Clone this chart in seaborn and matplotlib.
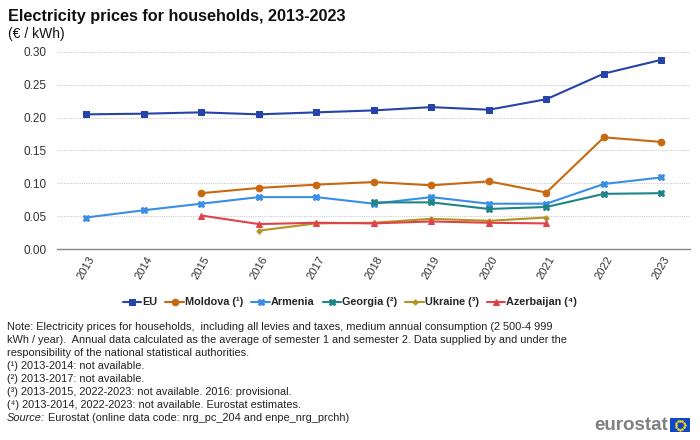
import numpy as np
import pandas as pd
import matplotlib
matplotlib.use("Agg")
import matplotlib.pyplot as plt
import seaborn as sns
from matplotlib.patches import Rectangle

nan = np.nan
years = list(range(2013, 2024))
eu = [0.205, 0.206, 0.208, 0.205, 0.208, 0.211, 0.216, 0.212, 0.228, 0.267, 0.288]
moldova = [nan, nan, 0.085, 0.093, 0.098, 0.102, 0.097, 0.103, 0.086, 0.170, 0.163]
armenia = [0.048, 0.059, 0.069, 0.079, 0.079, 0.069, 0.079, 0.069, 0.069, 0.099, 0.109]
georgia = [nan, nan, nan, nan, nan, 0.071, 0.071, 0.061, 0.064, 0.084, 0.085]
ukraine = [nan, nan, nan, 0.028, 0.039, 0.040, 0.046, 0.043, 0.048, nan, nan]
azerbaijan = [nan, nan, 0.051, 0.038, 0.040, 0.039, 0.042, 0.040, 0.039, nan, nan]

series_names = ["EU", "Moldova (¹)", "Armenia", "Georgia (²)", "Ukraine (³)", "Azerbaijan (⁴)"]
series_vals = [eu, moldova, armenia, georgia, ukraine, azerbaijan]
yticks = [0.00, 0.05, 0.10, 0.15, 0.20, 0.25, 0.30]

colors = ["#2644A7", "#C8680F", "#3A8EE6", "#208486", "#B39422", "#E0424A"]
markers = ["s", "o", "X", "X", "P", "^"]
msizes = [4.6, 4.8, 4.8, 4.8, 3.4, 4.8]

rows = []
for name, vals in zip(series_names, series_vals):
    for y, v in zip(years, vals):
        rows.append({"year": y, "value": v, "series": name})
df = pd.DataFrame(rows).dropna()

sns.set_style("white")
plt.rcParams["font.family"] = ["Liberation Sans", "DejaVu Sans"]

fig = plt.figure(figsize=(7, 4.4), dpi=100)
ax = fig.add_axes([0.082, 0.434, 0.904, 0.448])

for name, c, m, ms in zip(series_names, colors, markers, msizes):
    sub = df[df["series"] == name]
    sns.lineplot(data=sub, x="year", y="value", ax=ax, color=c, marker=m,
                 markersize=ms, markeredgecolor=c, linewidth=1.5, label=name,
                 legend=True)

ax.set_xlim(2012.5, 2023.5)
ax.set_ylim(0, 0.30)
ax.set_yticks(yticks)
ax.set_yticklabels([f"{t:.2f}" for t in yticks], fontsize=8.5, color="#333333")
ax.set_xticks(years)
ax.set_xticklabels([str(y) for y in years], rotation=60, fontsize=8, color="#333333",
                   ha="center", va="top")
ax.set_xticks([y + 0.5 for y in [2012] + years], minor=True)
ax.tick_params(axis="x", which="major", length=0, pad=4)
ax.tick_params(axis="x", which="minor", length=4, color="#888888")
ax.tick_params(axis="y", length=0, pad=8)
ax.set_xlabel("")
ax.set_ylabel("")
ax.grid(axis="y", color="#cccccc", linestyle=(0, (1, 1)), linewidth=0.8)
ax.set_axisbelow(True)
for s in ["left", "right", "top"]:
    ax.spines[s].set_visible(False)
ax.spines["bottom"].set_color("#888888")
ax.spines["bottom"].set_linewidth(1)

handles, labels = ax.get_legend_handles_labels()
ax.get_legend().remove()
fig.legend(handles, labels, loc="center", bbox_to_anchor=(0.5, 0.313), ncol=6,
           frameon=False, handlelength=1.7, handletextpad=0.1, columnspacing=0.75,
           prop={"weight": "bold", "size": 7.8})

fig.text(0.011, 0.962, "Electricity prices for households, 2013-2023", fontsize=11.7,
         fontweight="bold", ha="left", va="center", color="#111111")
fig.text(0.011, 0.922, "(€ / kWh)", fontsize=10, ha="left", va="center", color="#111111")

notes = [
    "Note: Electricity prices for households,  including all levies and taxes, medium annual consumption (2 500-4 999",
    "kWh / year).  Annual data calculated as the average of semester 1 and semester 2. Data supplied by and under the",
    "responsibility of the national statistical authorities.",
    "(¹) 2013-2014: not available.",
    "(²) 2013-2017: not available.",
    "(³) 2013-2015, 2022-2023: not available. 2016: provisional.",
    "(⁴) 2013-2014, 2022-2023: not available. Eurostat estimates.",
]
nfam = ["Liberation Sans Narrow", "Liberation Sans", "DejaVu Sans"]
y0 = 327.5
for i, line in enumerate(notes):
    fig.text(7 / 700, 1 - (y0 + i * 12.9) / 440, line, fontsize=7.9, family=nfam,
             ha="left", va="center", color="#222222")
yS = 1 - (y0 + 7 * 12.9) / 440
t1 = fig.text(7 / 700, yS, "Source:", fontsize=7.9, family=nfam, style="italic",
              ha="left", va="center", color="#222222")
fig.canvas.draw()
bb = t1.get_window_extent()
fig.text(bb.x1 / 700 + 0.004, yS,
         "Eurostat (online data code: nrg_pc_204 and enpe_nrg_prchh)",
         fontsize=7.9, family=nfam, ha="left", va="center", color="#222222")

fig.text(668 / 700, 1 - 425 / 440, "eurostat", fontsize=13.5, fontweight="bold",
         color="#7F8083", ha="right", va="center")
fig.patches.append(Rectangle((670 / 700, 1 - 432 / 440), 20 / 700, 14 / 440,
                             transform=fig.transFigure, facecolor="#0E47CB",
                             edgecolor="none"))
ang = np.linspace(0, 2 * np.pi, 12, endpoint=False)
cx, cy = 680, 425
fig.lines.append(plt.Line2D([(cx + 4.5 * np.cos(a)) / 700 for a in ang],
                            [1 - (cy + 4.5 * np.sin(a)) / 440 for a in ang],
                            transform=fig.transFigure, linestyle="none",
                            marker="o", markersize=0.8, color="#FFDD00"))

fig.savefig("out.png", dpi=100)
